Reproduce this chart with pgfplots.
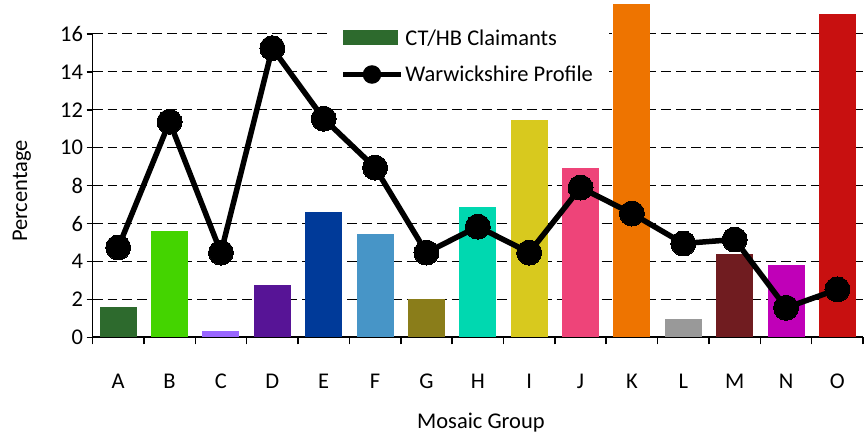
\documentclass[border=0pt]{standalone}
\usepackage{pgfplots}
\pgfplotsset{compat=1.18}
\usepackage{fontspec}
\setmainfont{Carlito}
\definecolor{cA}{HTML}{2D6A2D}
\definecolor{cB}{HTML}{44D400}
\definecolor{cC}{HTML}{9966FF}
\definecolor{cD}{HTML}{571496}
\definecolor{cE}{HTML}{003A99}
\definecolor{cF}{HTML}{4795C7}
\definecolor{cG}{HTML}{8A7D1A}
\definecolor{cH}{HTML}{00D8B0}
\definecolor{cI}{HTML}{D8C91E}
\definecolor{cJ}{HTML}{EE4479}
\definecolor{cK}{HTML}{EE7400}
\definecolor{cL}{HTML}{999999}
\definecolor{cM}{HTML}{701C20}
\definecolor{cN}{HTML}{C000B8}
\definecolor{cO}{HTML}{C81010}
\newcommand{\bigfont}{\fontsize{22.6}{27}\selectfont}
\begin{document}
\begin{tikzpicture}[font=\bigfont]
\begin{axis}[
  scale only axis, width=772bp, height=304bp,
  xmin=-0.5, xmax=14.5, ymin=0, ymax=16,
  clip=false,
  axis x line*=bottom, axis y line*=left,
  axis line style={line width=1.8bp, -},
  xtick={0,...,14},
  xticklabels={A,B,C,D,E,F,G,H,I,J,K,L,M,N,O},
  major x tick style={draw=none},
  minor xtick={-0.5,0.5,...,14.5},
  minor x tick style={line width=1.5bp,black},
  minor tick length=7bp,
  ytick={0,2,...,16},
  major y tick style={line width=1.5bp,black},
  major tick length=6bp,
  tick align=outside,
  ymajorgrids,
  major y grid style={black, line width=1.1bp, dash pattern=on 10bp off 5bp},
  /pgf/number format/assume math mode=true,
  tick label style={font=\bigfont},
  xticklabel style={anchor=base, yshift=-45bp},
  yticklabel style={anchor=east},
  xlabel={Mosaic Group},
  ylabel={Percentage},
  label style={font=\bigfont},
  every axis x label/.style={at={(rel axis cs:0.504,-0.299)}, anchor=base},
  every axis y label/.style={at={(rel axis cs:-0.0916,0.482)}, rotate=90, anchor=center},
  legend style={draw=none, fill=white, inner xsep=14bp, inner ysep=10bp, font=\bigfont, at={(rel axis cs:0.3035,1.055)}, anchor=north west, row sep=15.5bp, cells={anchor=west}},
]
\addplot[ybar, bar width=37bp, bar shift=0pt, fill=cA, draw=none,
  legend image code/.code={\fill[cA] (0bp,-7.5bp) rectangle (55bp,7.5bp);}] coordinates {(0,1.6)};
\addlegendentry{CT/HB Claimants}
\addplot[ybar, bar width=37bp, bar shift=0pt, fill=cB, draw=none, forget plot] coordinates {(1,5.6)};
\addplot[ybar, bar width=37bp, bar shift=0pt, fill=cC, draw=none, forget plot] coordinates {(2,0.33)};
\addplot[ybar, bar width=37bp, bar shift=0pt, fill=cD, draw=none, forget plot] coordinates {(3,2.75)};
\addplot[ybar, bar width=37bp, bar shift=0pt, fill=cE, draw=none, forget plot] coordinates {(4,6.63)};
\addplot[ybar, bar width=37bp, bar shift=0pt, fill=cF, draw=none, forget plot] coordinates {(5,5.47)};
\addplot[ybar, bar width=37bp, bar shift=0pt, fill=cG, draw=none, forget plot] coordinates {(6,2.0)};
\addplot[ybar, bar width=37bp, bar shift=0pt, fill=cH, draw=none, forget plot] coordinates {(7,6.9)};
\addplot[ybar, bar width=37bp, bar shift=0pt, fill=cI, draw=none, forget plot] coordinates {(8,11.47)};
\addplot[ybar, bar width=37bp, bar shift=0pt, fill=cJ, draw=none, forget plot] coordinates {(9,8.95)};
\addplot[ybar, bar width=37bp, bar shift=0pt, fill=cK, draw=none, forget plot] coordinates {(10,17.58)};
\addplot[ybar, bar width=37bp, bar shift=0pt, fill=cL, draw=none, forget plot] coordinates {(11,0.95)};
\addplot[ybar, bar width=37bp, bar shift=0pt, fill=cM, draw=none, forget plot] coordinates {(12,4.42)};
\addplot[ybar, bar width=37bp, bar shift=0pt, fill=cN, draw=none, forget plot] coordinates {(13,3.79)};
\addplot[ybar, bar width=37bp, bar shift=0pt, fill=cO, draw=none, forget plot] coordinates {(14,17.05)};
\addplot[black, line width=5.5bp, mark=*, mark size=12.5bp, mark options={solid, fill=black, line width=0pt},
  legend image code/.code={\draw[black,line width=5bp] (0bp,0bp) -- (58bp,0bp); \fill[black] (29bp,0bp) circle (6.5bp);}]
  coordinates {(0,4.74) (1,11.37) (2,4.47) (3,15.25) (4,11.53) (5,8.95) (6,4.47) (7,5.84) (8,4.47) (9,7.9) (10,6.53) (11,4.95) (12,5.16) (13,1.56) (14,2.53)};
\addlegendentry{Warwickshire Profile}
\end{axis}
\path ([shift={(-92.7bp,-95bp)}]current axis.south west) rectangle ([shift={(0bp,338bp)}]current axis.south east);
\end{tikzpicture}
\end{document}
